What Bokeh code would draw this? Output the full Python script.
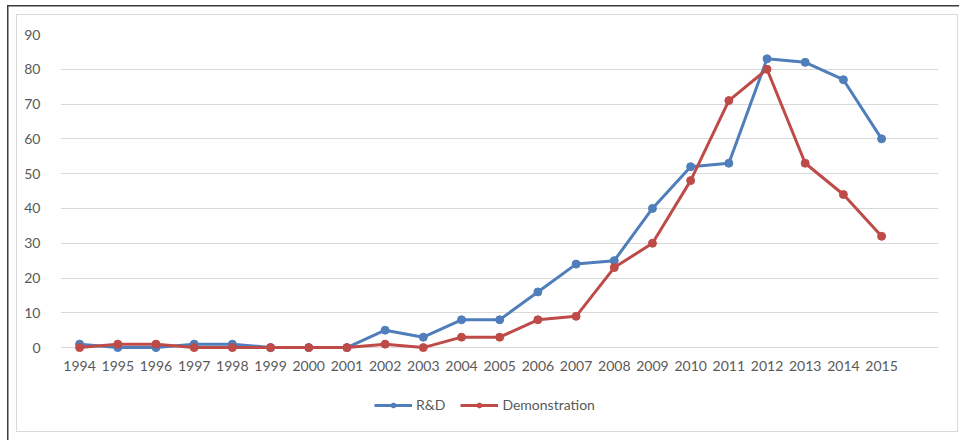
from bokeh.plotting import figure
from bokeh.models import Legend, LegendItem, FixedTicker, ColumnDataSource
from bokeh.core.properties import value
from bokeh.embed import file_html
from bokeh.resources import INLINE

# Project counts per year
years = list(range(1994, 2016))
year_labels = [str(y) for y in years]
rnd = [1, 0, 0, 1, 1, 0, 0, 0, 5, 3, 8, 8, 16, 24, 25, 40, 52, 53, 83, 82, 77, 60]
demonstration = [0, 1, 1, 0, 0, 0, 0, 0, 1, 0, 3, 3, 8, 9, 23, 30, 48, 71, 80, 53, 44, 32]
y_ticks = list(range(0, 100, 10))

BLUE = "#4F7EBB"
RED = "#BE4B48"
FONT = "Lato"
TEXT = "#595959"

src = ColumnDataSource(dict(year=years, rnd=rnd, demo=demonstration,
                            label=year_labels, base=[0] * len(years)))

# The plotting frame reaches down to the chart border so the legend can sit under the year labels
p = figure(width=959, height=440, output_backend="svg", toolbar_location=None,
           x_range=(1993.5, 2016.49), y_range=(-24.4, 90),
           min_border_left=60, min_border_right=21, min_border_top=34, min_border_bottom=8)
p.outline_line_color = None
p.background_fill_alpha = 0
p.border_fill_alpha = 0


def rule(color, x, y, w, h):
    return f"linear-gradient({color},{color}) {x}px {y}px / {w}px {h}px no-repeat"


# Outer dark frame and inner light chart border, painted behind the transparent canvas
p.styles = {
    "background": ", ".join([
        rule("#3C3C3C", 7, 5, 952, 1.5),
        rule("#3C3C3C", 7, 5, 1.5, 435),
        rule("#D9D9D9", 16, 14, 942, 1),
        rule("#D9D9D9", 16, 431, 942, 1),
        rule("#D9D9D9", 16, 14, 1, 418),
        rule("#D9D9D9", 957, 14, 1, 418),
    ]) + ", white",
}

p.xaxis.visible = False
p.xgrid.grid_line_color = None
p.ygrid.grid_line_color = "#D9D9D9"
p.ygrid.grid_line_width = 1

p.yaxis.ticker = FixedTicker(ticks=y_ticks)
yax = p.yaxis[0]
yax.axis_line_color = None
yax.major_tick_line_color = None
yax.minor_tick_line_color = None
yax.major_label_text_font = FONT
yax.major_label_text_font_size = "14px"
yax.major_label_text_color = TEXT
yax.major_label_standoff = 14

# Year labels under the zero line
p.text(x="year", y="base", text="label", source=src, y_offset=13,
       text_font=value(FONT), text_font_size="14px", text_color=TEXT,
       text_align="center", text_baseline="top")

r1 = p.line("year", "rnd", source=src, line_color=BLUE, line_width=3)
m1 = p.scatter("year", "rnd", source=src, size=8, fill_color=BLUE, line_color=BLUE)
r2 = p.line("year", "demo", source=src, line_color=RED, line_width=3)
m2 = p.scatter("year", "demo", source=src, size=8, fill_color=RED, line_color=RED)

legend = Legend(items=[LegendItem(label="R&D", renderers=[r1, m1]),
                       LegendItem(label="Demonstration", renderers=[r2, m2])],
                orientation="horizontal", location=(314, 19),
                glyph_width=38, glyph_height=12, label_standoff=4, spacing=15,
                label_text_font=FONT, label_text_font_size="14px", label_text_color=TEXT,
                border_line_color=None, background_fill_alpha=0, padding=0, margin=0)
p.add_layout(legend, "center")

open("out.html", "w").write(file_html(p, INLINE))
